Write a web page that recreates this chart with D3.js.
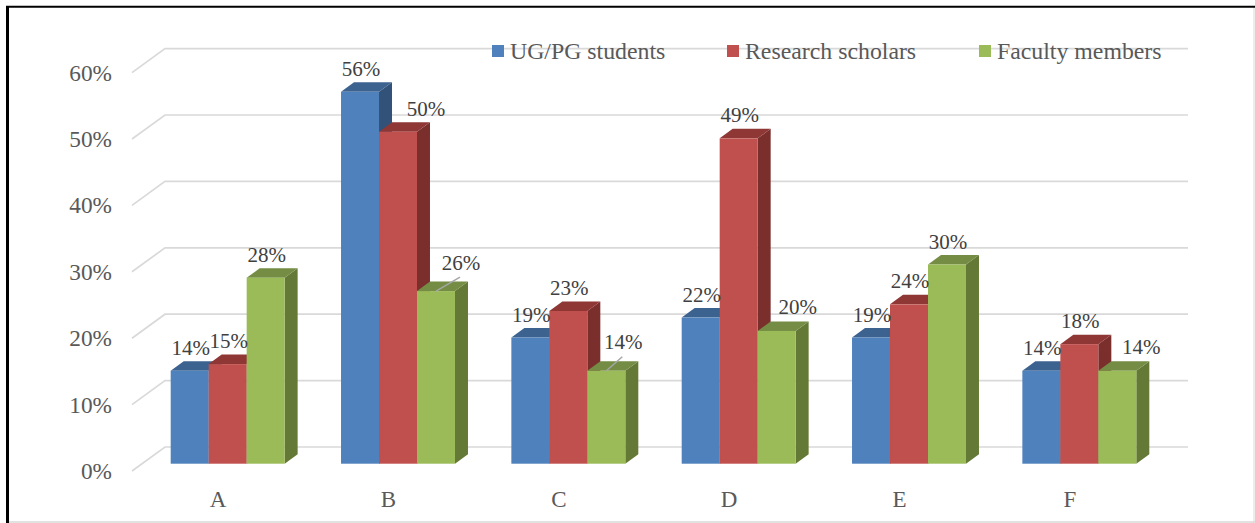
<!DOCTYPE html>
<html>
<head>
<meta charset="utf-8">
<script src="https://cdn.jsdelivr.net/npm/d3@7"></script>
<style>
  html, body { margin: 0; padding: 0; background: #fff; }
  svg { display: block; font-family: "Liberation Serif", serif; }
</style>
</head>
<body>
<svg id="chart" width="1255" height="523"></svg>
<script>
const categories = ["A", "B", "C", "D", "E", "F"];
const seriesNames = ["UG/PG students", "Research scholars", "Faculty members"];
const ugpg = [14, 56, 19, 22, 19, 14];
const research = [15, 50, 23, 49, 24, 18];
const faculty = [28, 26, 14, 20, 30, 14];
const yTicks = [0, 10, 20, 30, 40, 50, 60];

const colors = [
  { front: "#4f81bd", side: "#325279", top: "#3c6290" },
  { front: "#c0504d", side: "#7a2f2d", top: "#8e3735" },
  { front: "#9bbb59", side: "#647935", top: "#748c43" },
];

// labels Excel moved by hand, [series, category, dx, dy, leader line]
const labelMoves = [
  [1, 1, 27, 0, false],
  [2, 1, 24, -5, true],
  [2, 2, 16, -6, true],
  [2, 3, 20, -1, false],
  [2, 5, 23, -1, false],
];

const svg = d3.select("#chart");

// CANVAS SETUP
const depthX = 13, depthY = 9.5;
const floorShift = { x: 10.5, y: 7.3 }; // bar plane -> front edge of the floor
const wallShift = { x: 33, y: -16.7 };  // front edge of the floor -> back wall, relative to bar plane
const x0 = d3.scaleBand().domain(categories).range([142.5, 1164.5]).paddingInner(0.331).paddingOuter(0.1655);
const x1 = d3.scaleBand().domain(d3.range(3)).range([0, x0.bandwidth()]);
const y = d3.scaleLinear().domain([0, 60]).range([463.7, 65.3]);

// frame
svg.append("line").attr("x1", 1254).attr("x2", 1254).attr("y1", 7).attr("y2", 523).attr("stroke", "#d9d9d9").attr("stroke-width", 1);
svg.append("line").attr("x1", 8).attr("x2", 1255).attr("y1", 522).attr("y2", 522).attr("stroke", "#d9d9d9").attr("stroke-width", 1.5);
svg.append("line").attr("x1", 6).attr("x2", 1255).attr("y1", 6.8).attr("y2", 6.8).attr("stroke", "#000").attr("stroke-width", 2);
svg.append("line").attr("x1", 7.5).attr("x2", 7.5).attr("y1", 6).attr("y2", 523).attr("stroke", "#000").attr("stroke-width", 3);

// GRID
const grid = svg.append("g");
const leftX = x0.range()[0] - floorShift.x, wallX = leftX + wallShift.x, wallEnd = 1188;
grid.selectAll("path")
  .data(yTicks)
  .join("path")
  .attr("d", (d) => `M${leftX},${y(d) + floorShift.y}L${wallX},${y(d) + wallShift.y}L${wallEnd},${y(d) + wallShift.y}`)
  .attr("fill", "none")
  .attr("stroke", "#d9d9d9")
  .attr("stroke-width", 1.7);

svg.append("g")
  .selectAll("text")
  .data(yTicks)
  .join("text")
  .attr("x", 112)
  .attr("y", (d) => y(d) + floorShift.y + 8)
  .attr("text-anchor", "end")
  .attr("font-size", 23.3)
  .attr("fill", "#595959")
  .text((d) => d + "%");

svg.append("g")
  .selectAll("text")
  .data(categories)
  .join("text")
  .attr("x", (d) => x0(d) + x0.bandwidth() / 2 - 9.5)
  .attr("y", 507)
  .attr("text-anchor", "middle")
  .attr("font-size", 23)
  .attr("fill", "#595959")
  .text((d) => d);

// BARS
const values = [ugpg, research, faculty];
const barData = categories.flatMap((c, ci) =>
  values.map((v, si) => ({ cat: c, ci, si, value: v[ci] }))
);
const barX = (d) => x0(d.cat) + x1(d.si);
const w = x1.bandwidth();

const bars = svg.append("g")
  .selectAll("g")
  .data(barData)
  .join("g");

bars.append("path")
  .attr("fill", (d) => colors[d.si].side)
  .attr("d", (d) => {
    const r = barX(d) + w;
    return `M${r},${y(0)}L${r + depthX},${y(0) - depthY}L${r + depthX},${y(d.value) - depthY}L${r},${y(d.value)}Z`;
  });
bars.append("path")
  .attr("fill", (d) => colors[d.si].top)
  .attr("d", (d) => {
    const l = barX(d), t = y(d.value);
    return `M${l},${t}L${l + depthX},${t - depthY}L${l + w + depthX},${t - depthY}L${l + w},${t}Z`;
  });
bars.append("rect")
  .attr("x", barX)
  .attr("y", (d) => y(d.value))
  .attr("width", w)
  .attr("height", (d) => y(0) - y(d.value))
  .attr("fill", (d) => colors[d.si].front);

// DATA LABELS
const moveOf = (d) => labelMoves.find((m) => m[0] === d.si && m[1] === d.ci) || [d.si, d.ci, 0, 0, false];

svg.append("g")
  .selectAll("line")
  .data(barData.filter((d) => moveOf(d)[4]))
  .join("line")
  .attr("x1", (d) => barX(d) + w / 2)
  .attr("y1", (d) => y(d.value))
  .attr("x2", (d) => barX(d) + w / 2 + moveOf(d)[2])
  .attr("y2", (d) => y(d.value) - 14)
  .attr("stroke", "#a6a6a6")
  .attr("stroke-width", 1.5);

svg.append("g")
  .selectAll("text")
  .data(barData)
  .join("text")
  .attr("x", (d) => barX(d) + w / 2 + moveOf(d)[2] + 1)
  .attr("y", (d) => y(d.value) - 16 + moveOf(d)[3])
  .attr("text-anchor", "middle")
  .attr("font-size", 21)
  .attr("fill", "#404040")
  .text((d) => d.value + "%");

// LEGEND
const legendX = d3.scaleOrdinal().domain(seriesNames).range([492, 727, 979]);
const legend = svg.append("g")
  .selectAll("g")
  .data(seriesNames)
  .join("g")
  .attr("transform", (d) => `translate(${legendX(d)},45)`);
legend.append("rect")
  .attr("width", 12)
  .attr("height", 12)
  .attr("fill", (d, i) => colors[i].front);
legend.append("text")
  .attr("x", 18)
  .attr("y", 14)
  .attr("font-size", 23.8)
  .attr("fill", "#595959")
  .text((d) => d);
</script>
</body>
</html>
